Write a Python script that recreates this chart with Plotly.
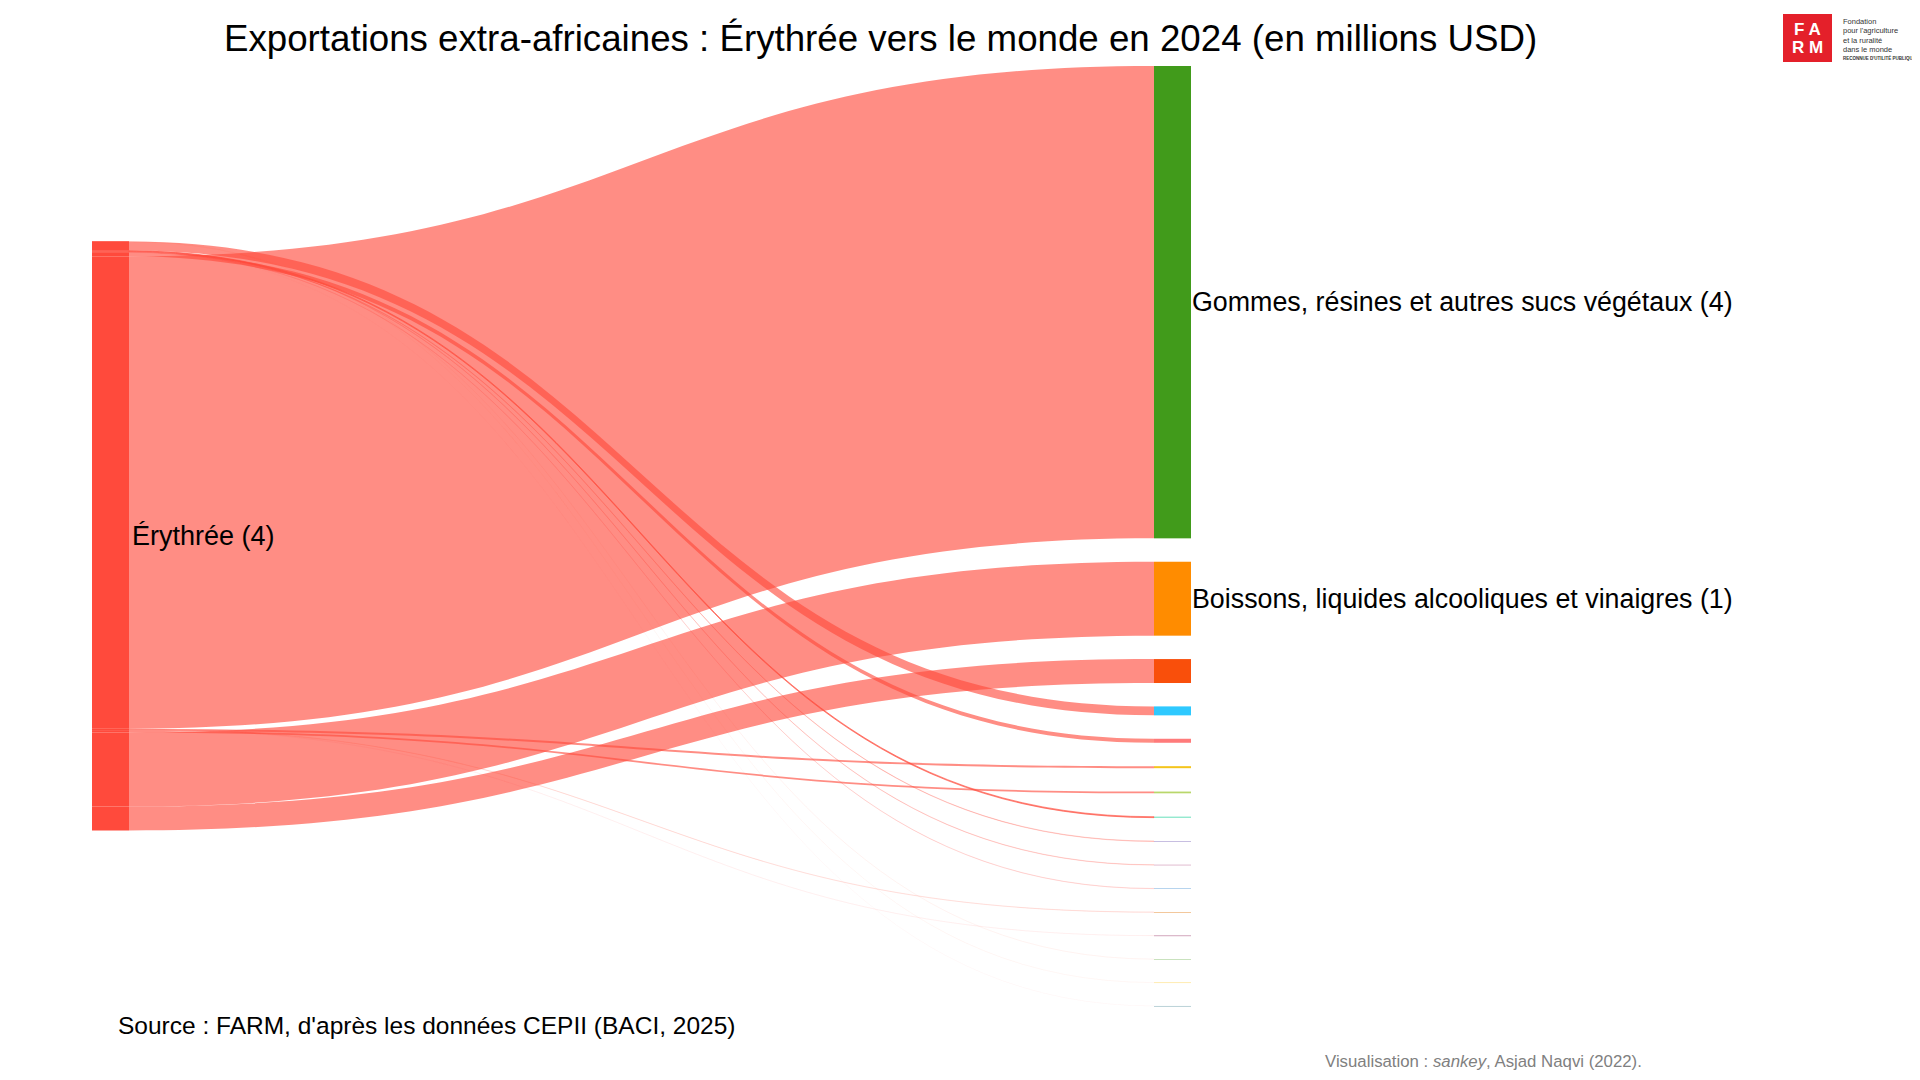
import plotly.graph_objects as go

# Exportations extra-africaines de l'Érythrée, 2024, en millions USD
origin = "Érythrée"
products = [
    "Gommes, résines et autres sucs végétaux",
    "Boissons, liquides alcooliques et vinaigres",
    "Tabacs et succédanés de tabac fabriqués",
    "Poissons et crustacés, mollusques",
    "Graines et fruits oléagineux",
    "Préparations de légumes, de fruits",
    "Préparations alimentaires diverses",
    "Fruits comestibles",
    "Café, thé, maté et épices",
    "Légumes, plantes, racines et tubercules",
    "Produits de la minoterie",
    "Sucres et sucreries",
    "Cacao et ses préparations",
    "Animaux vivants",
    "Viandes et abats comestibles",
    "Lait et produits de la laiterie",
]
hs_codes = [13, 22, 24, 3, 12, 20, 21, 8, 9, 7, 11, 17, 18, 1, 2, 4]
values = [3.533, 0.553, 0.179, 0.067, 0.030, 0.015, 0.013, 0.007,
          0.0025, 0.002, 0.0015, 0.0012, 0.0005, 0.0004, 0.0003, 0.0002]
node_colors = ["#419B1B", "#FF8C00", "#F94F0B", "#2EC9FF", "#FF7B7B",
               "#F4C51C", "#B9D76B", "#5CDDB6", "#8E7CC3", "#C27BA0",
               "#6FA8DC", "#E69138", "#A64D79", "#93C47D", "#FFD966", "#76A5AF"]
origin_color = "#FF4A3C"
link_alpha = 0.63

FONT = "Liberation Sans, Arial, sans-serif"
W, H = 1920, 1080
OFF = 8  # page margin of the html body


def pxx(x):
    return (x - OFF) / W


def py(y):
    return 1 - (y - OFF) / H


top_px, span_px, total_px = 66, 940, 589
n = len(products)
pad = (span_px - total_px) / (n - 1)
total = sum(values)
ky = total_px / total
heights = [v * ky for v in values]

# right column: sorted by value, stacked from the top
right_y = []
acc = 0
for h in heights:
    right_y.append((acc + h / 2) / span_px)
    acc += h + pad

# left column: one segment per flow, in HS order, stacked without gaps
order = sorted(range(n), key=lambda i: hs_codes[i])
left_y = [0] * n
acc = (span_px - total_px) / 2
for i in order:
    left_y[i] = (acc + heights[i] / 2) / span_px
    acc += heights[i]

# sub-pixel flows fade out instead of showing as 1px lines
link_colors = [f"rgba(255,74,60,{link_alpha * min(1, h):.3f})" for h in heights]

fig = go.Figure(go.Sankey(
    arrangement="fixed",
    domain=dict(x=[0, 1], y=[py(top_px + span_px), py(top_px)]),
    node=dict(
        label=[""] * (2 * n),
        customdata=[origin] * n + products,
        hovertemplate="%{customdata}<extra></extra>",
        color=[origin_color] * n + node_colors,
        x=[pxx(110.5)] * n + [pxx(1172.5)] * n,
        y=left_y + right_y,
        pad=pad,
        thickness=37,
        line=dict(width=0),
    ),
    link=dict(
        source=list(range(n)),
        target=[n + i for i in range(n)],
        value=values,
        color=link_colors,
        customdata=products,
        hovertemplate="%{customdata}: %{value:.3f}<extra></extra>",
    ),
))

ann = []
ann.append(dict(text="Exportations extra-africaines : Érythrée vers le monde en 2024 (en millions USD)",
                x=pxx(880), y=py(38), xanchor="center", yanchor="middle",
                font=dict(size=36.7, color="black")))
ann.append(dict(text=f"{origin} ({round(total)})", x=pxx(130),
                y=py(top_px + span_px / 2), xanchor="left", yanchor="middle",
                font=dict(size=27, color="black")))
for i, name in enumerate(products):
    if values[i] >= 0.5:
        ann.append(dict(text=f"{name} ({round(values[i])})", x=pxx(1190),
                        y=py(top_px + right_y[i] * span_px), xanchor="left", yanchor="middle",
                        font=dict(size=26.8, color="black")))
ann.append(dict(text="Source : FARM, d'après les données CEPII (BACI, 2025)",
                x=pxx(115.5), y=py(1025), xanchor="left", yanchor="middle",
                font=dict(size=24.5, color="black")))
ann.append(dict(text="Visualisation : <i>sankey</i>, Asjad Naqvi (2022).",
                x=pxx(1323), y=py(1061), xanchor="left", yanchor="middle",
                font=dict(size=16.8, color="#808080")))

# logo FARM
ann.append(dict(text="<b>F A</b>", x=pxx(1807.5), y=py(29), xanchor="center", yanchor="middle",
                font=dict(size=17, color="white")))
ann.append(dict(text="<b>R M</b>", x=pxx(1807.5), y=py(48), xanchor="center", yanchor="middle",
                font=dict(size=17, color="white")))
logo_lines = ["Fondation", "pour l'agriculture", "et la ruralité", "dans le monde"]
for k, t in enumerate(logo_lines):
    ann.append(dict(text=t, x=pxx(1841), y=py(22 + 9 * k), xanchor="left", yanchor="middle",
                    font=dict(size=7.5, color="#333333")))
ann.append(dict(text="<b>RECONNUE D'UTILITÉ PUBLIQUE</b>", x=pxx(1841), y=py(58),
                xanchor="left", yanchor="middle", font=dict(size=4.5, color="#333333")))

for a in ann:
    a.update(xref="paper", yref="paper", showarrow=False)

fig.update_layout(
    width=W, height=H,
    margin=dict(l=0, r=0, t=0, b=0),
    paper_bgcolor="white", plot_bgcolor="white",
    font=dict(family=FONT),
    annotations=ann,
    shapes=[dict(type="rect", xref="paper", yref="paper",
                 x0=pxx(1783), x1=pxx(1832), y0=py(62), y1=py(14),
                 fillcolor="#E4202A", line=dict(width=0), layer="above")],
)

fig.write_html("out.html")
